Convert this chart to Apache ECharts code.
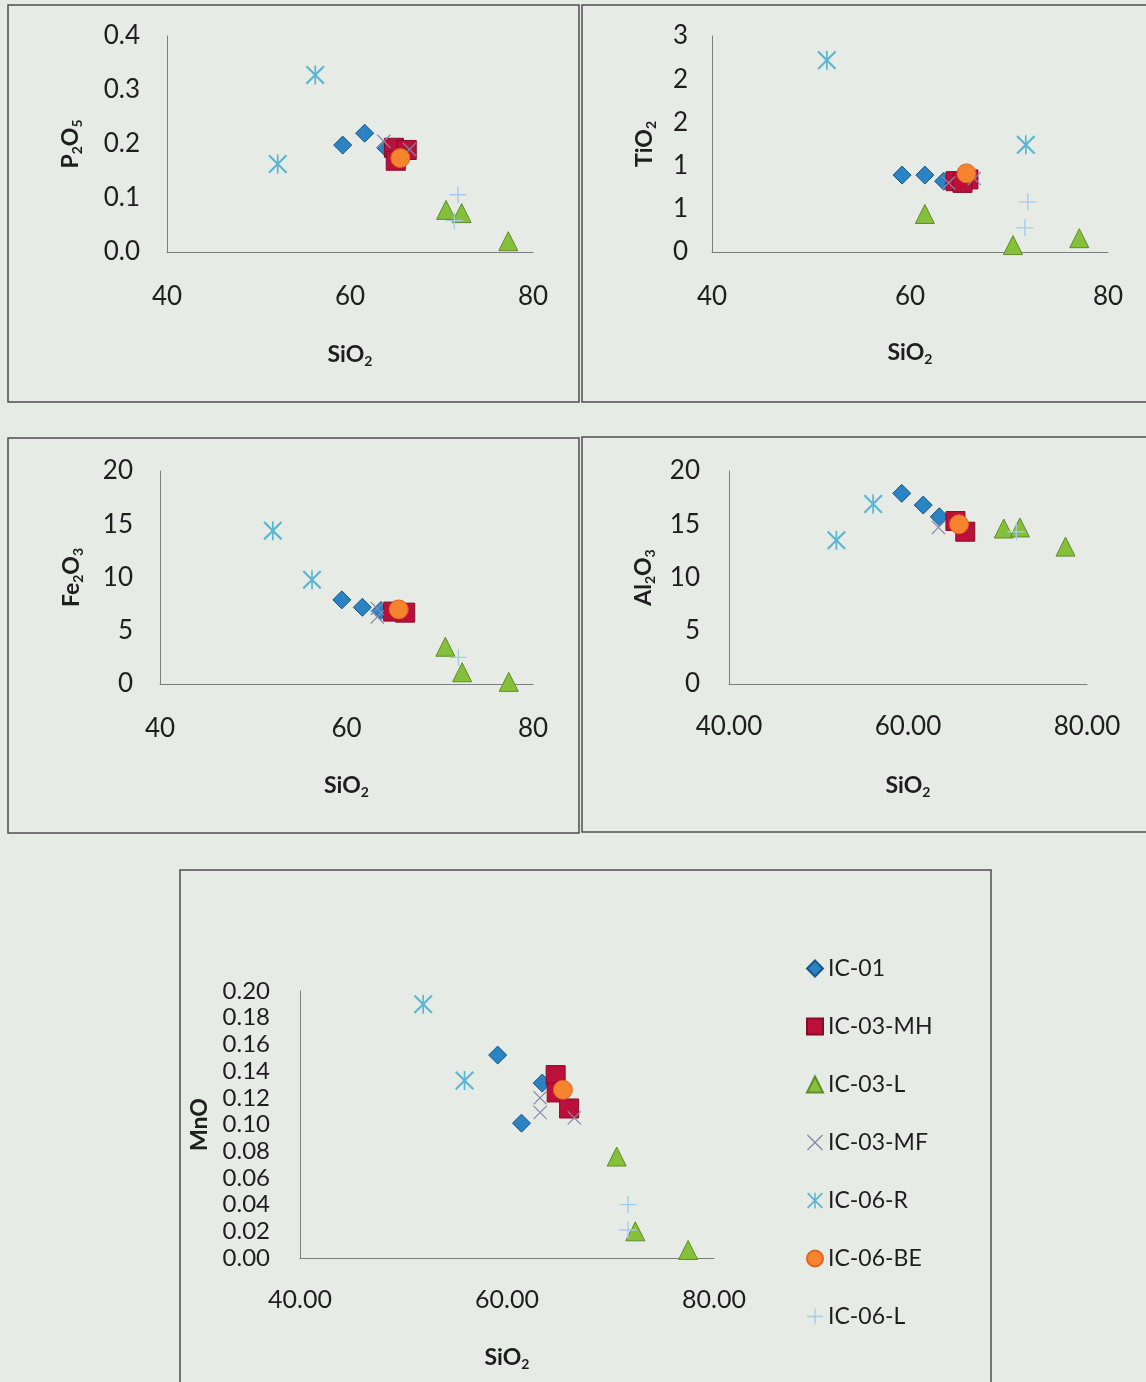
<!DOCTYPE html>
<html>
<head>
<meta charset="utf-8">
<title>SiO2 Harker diagrams</title>
<script src="https://cdn.jsdelivr.net/npm/echarts@6/dist/echarts.min.js"></script>
<style>
  html, body { margin: 0; padding: 0; background: #e6ebe5; }
  #chart { width: 1146px; height: 1382px; }
</style>
</head>
<body>
<div id="chart"></div>
<script>
// Sample groups, in drawing order
const samples = ['IC-01', 'IC-03-MH', 'IC-03-L', 'IC-03-MF', 'IC-06-R', 'IC-06-BE', 'IC-06-L'];

// Rows: [sample, SiO2, oxide]
const p2o5Rows = [
  ['IC-01', 59.2, 0.198], ['IC-01', 61.6, 0.220], ['IC-01', 63.9, 0.193],
  ['IC-03-MH', 64.8, 0.193], ['IC-03-MH', 66.2, 0.189], ['IC-03-MH', 65.0, 0.169],
  ['IC-03-L', 70.5, 0.078], ['IC-03-L', 72.2, 0.072], ['IC-03-L', 77.3, 0.020],
  ['IC-03-MF', 63.7, 0.205], ['IC-03-MF', 66.5, 0.190],
  ['IC-06-R', 56.2, 0.328], ['IC-06-R', 52.1, 0.163],
  ['IC-06-BE', 65.5, 0.174],
  ['IC-06-L', 71.8, 0.106], ['IC-06-L', 71.4, 0.058]
];

const tio2Rows = [
  ['IC-01', 59.2, 0.89], ['IC-01', 61.5, 0.89], ['IC-01', 63.4, 0.82],
  ['IC-03-MH', 64.6, 0.82], ['IC-03-MH', 65.9, 0.84], ['IC-03-MH', 65.3, 0.80],
  ['IC-03-L', 61.5, 0.44], ['IC-03-L', 70.4, 0.08], ['IC-03-L', 77.1, 0.16],
  ['IC-03-MF', 63.9, 0.80], ['IC-03-MF', 66.5, 0.85],
  ['IC-06-R', 51.6, 2.22], ['IC-06-R', 71.7, 1.24],
  ['IC-06-BE', 65.7, 0.91],
  ['IC-06-L', 71.9, 0.58], ['IC-06-L', 71.6, 0.28]
];

const fe2o3Rows = [
  ['IC-01', 59.5, 7.9], ['IC-01', 61.7, 7.2], ['IC-01', 63.7, 6.9],
  ['IC-03-MH', 65.0, 6.8], ['IC-03-MH', 66.3, 6.7],
  ['IC-03-L', 70.6, 3.5], ['IC-03-L', 72.4, 1.1], ['IC-03-L', 77.4, 0.2],
  ['IC-03-MF', 63.3, 7.1], ['IC-03-MF', 63.3, 6.3],
  ['IC-06-R', 52.1, 14.4], ['IC-06-R', 56.3, 9.8],
  ['IC-06-BE', 65.6, 7.0],
  ['IC-06-L', 72.0, 2.5]
];

const al2o3Rows = [
  ['IC-01', 59.3, 17.9], ['IC-01', 61.7, 16.8], ['IC-01', 63.5, 15.7],
  ['IC-03-MH', 65.3, 15.3], ['IC-03-MH', 66.4, 14.3],
  ['IC-03-L', 70.7, 14.6], ['IC-03-L', 72.5, 14.7], ['IC-03-L', 77.6, 12.9],
  ['IC-03-MF', 63.4, 14.7],
  ['IC-06-R', 56.1, 16.9], ['IC-06-R', 52.0, 13.5],
  ['IC-06-BE', 65.7, 15.0],
  ['IC-06-L', 72.1, 14.3]
];

const mnoRows = [
  ['IC-01', 59.1, 0.152], ['IC-01', 63.4, 0.131], ['IC-01', 61.4, 0.101],
  ['IC-03-MH', 64.7, 0.137], ['IC-03-MH', 64.8, 0.124], ['IC-03-MH', 66.0, 0.112],
  ['IC-03-L', 70.6, 0.076], ['IC-03-L', 72.4, 0.020], ['IC-03-L', 77.5, 0.006],
  ['IC-03-MF', 63.2, 0.120], ['IC-03-MF', 63.2, 0.109], ['IC-03-MF', 66.5, 0.105],
  ['IC-06-R', 51.9, 0.190], ['IC-06-R', 55.9, 0.133],
  ['IC-06-BE', 65.4, 0.126],
  ['IC-06-L', 71.7, 0.040], ['IC-06-L', 71.7, 0.021]
];

// Tick labels
const xTicksShort = ['40', '60', '80'];
const xTicksLong = ['40.00', '60.00', '80.00'];
const p2o5Ticks = ['0.0', '0.1', '0.2', '0.3', '0.4'];
const tio2Ticks = ['0', '1', '1', '2', '2', '3'];
const fe2o3Ticks = ['0', '5', '10', '15', '20'];
const al2o3Ticks = ['0', '5', '10', '15', '20'];
const mnoTicks = ['0.00', '0.02', '0.04', '0.06', '0.08', '0.10', '0.12', '0.14', '0.16', '0.18', '0.20'];

const FONT = 'Lato';
const TEXT = '#1e1e1e';
const AXIS = '#7d7d7d';

// Marker shapes (stroke-like glyphs as filled outlines)
const X_PATH = 'path://M0,1.2 L1.2,0 L10,8.8 L18.8,0 L20,1.2 L11.2,10 L20,18.8 L18.8,20 L10,11.2 L1.2,20 L0,18.8 L8.8,10 Z';
const STAR_PATH = 'path://M0,1.6 L1.6,0 L10,8.4 L18.4,0 L20,1.6 L11.6,10 L20,18.4 L18.4,20 L10,11.6 L1.6,20 L0,18.4 L8.4,10 Z M9.1,0 L10.9,0 L10.9,20 L9.1,20 Z';
const PLUS_PATH = 'path://M9.2,0 L10.8,0 L10.8,9.2 L20,9.2 L20,10.8 L10.8,10.8 L10.8,20 L9.2,20 L9.2,10.8 L0,10.8 L0,9.2 L9.2,9.2 Z';

const markerStyle = {
  'IC-01':    { symbol: 'diamond', size: 18, itemStyle: { color: '#2a84c4', borderColor: '#1a5588', borderWidth: 1, opacity: 1 } },
  'IC-03-MH': { symbol: 'rect', size: 19, itemStyle: { color: '#bb1039', borderColor: '#860c2a', borderWidth: 1, opacity: 1 } },
  'IC-03-L':  { symbol: 'triangle', size: 19, itemStyle: { color: '#86c03a', borderColor: '#5e8c28', borderWidth: 1, opacity: 1 } },
  'IC-03-MF': { symbol: X_PATH, size: 14, itemStyle: { color: '#8d86ab', opacity: 1 } },
  'IC-06-R':  { symbol: STAR_PATH, size: 19, itemStyle: { color: '#5cb6d2', opacity: 1 } },
  'IC-06-BE': { symbol: 'circle', size: 19, itemStyle: { color: '#f6842f', borderColor: '#e2621f', borderWidth: 1, opacity: 1 } },
  'IC-06-L':  { symbol: PLUS_PATH, size: 17, itemStyle: { color: '#a6cbe6', opacity: 1 } }
};

const richName = {
  b: { fontFamily: FONT, fontSize: 23, fontWeight: 'bold', color: TEXT, lineHeight: 26 },
  s: { fontFamily: FONT, fontSize: 14, fontWeight: 'bold', color: TEXT, lineHeight: 13, verticalAlign: 'bottom' }
};

// One panel per oxide: plot box, ticks, names and rows
const panels = [
  { rows: p2o5Rows, box: [167, 36, 366, 216], yMax: 0.4, yStep: 0.1, yTicks: p2o5Ticks, xTicks: xTicksShort,
    yName: '{b|P}{s|2}{b|O}{s|5}', yGap: 83, xGap: 90, xMargin: 32, yMargin: 27, tickSize: 26 },
  { rows: tio2Rows, box: [712, 36, 396, 216], yMax: 2.5, yStep: 0.5, yTicks: tio2Ticks, xTicks: xTicksShort,
    yName: '{b|TiO}{s|2}', yGap: 54, xGap: 88, xMargin: 32, yMargin: 24, tickSize: 26 },
  { rows: fe2o3Rows, box: [160, 471, 373, 213], yMax: 20, yStep: 5, yTicks: fe2o3Ticks, xTicks: xTicksShort,
    yName: '{b|Fe}{s|2}{b|O}{s|3}', yGap: 75, xGap: 89, xMargin: 32, yMargin: 27, tickSize: 26 },
  { rows: al2o3Rows, box: [729, 471, 358, 213], yMax: 20, yStep: 5, yTicks: al2o3Ticks, xTicks: xTicksLong,
    yName: '{b|Al}{s|2}{b|O}{s|3}', yGap: 72, xGap: 89, xMargin: 30, yMargin: 29, tickSize: 26 },
  { rows: mnoRows, box: [300, 991, 414, 267], yMax: 0.2, yStep: 0.02, yTicks: mnoTicks, xTicks: xTicksLong,
    yName: '{b|MnO}', yGap: 87, xGap: 87, xMargin: 29, yMargin: 30, tickSize: 24, xTickSize: 25 }
];

const grids = [], xAxes = [], yAxes = [], series = [];

panels.forEach((p, i) => {
  const [left, top, width, height] = p.box;
  grids.push({ left, top, width, height, containLabel: false });

  xAxes.push({
    type: 'value', gridIndex: i, min: 40, max: 80, interval: 20,
    name: '{b|SiO}{s|2}', nameLocation: 'middle', nameGap: p.xGap,
    nameTextStyle: { rich: richName },
    axisLine: { show: true, onZero: false, lineStyle: { color: AXIS, width: 1 } },
    axisTick: { show: false },
    splitLine: { show: false },
    axisLabel: {
      margin: p.xMargin, fontFamily: FONT, fontSize: p.xTickSize || p.tickSize, color: TEXT,
      formatter: (v, idx) => p.xTicks[idx]
    }
  });

  yAxes.push({
    type: 'value', gridIndex: i, min: 0, max: p.yMax, interval: p.yStep,
    name: p.yName, nameLocation: 'middle', nameGap: p.yGap, nameRotate: 90,
    nameTextStyle: { rich: richName },
    axisLine: { show: true, lineStyle: { color: AXIS, width: 1 } },
    axisTick: { show: false },
    splitLine: { show: false },
    axisLabel: {
      margin: p.yMargin, fontFamily: FONT, fontSize: p.tickSize, color: TEXT,
      formatter: (v, idx) => p.yTicks[idx]
    }
  });

  samples.forEach((s, k) => {
    const m = markerStyle[s];
    series.push({
      type: 'scatter', name: s, xAxisIndex: i, yAxisIndex: i,
      symbol: m.symbol, symbolSize: m.size, itemStyle: m.itemStyle,
      z: 2 + k,
      emphasis: { disabled: true },
      data: p.rows.filter(r => r[0] === s).map(r => [r[1], r[2]])
    });
  });
});

// Panel frames
const frameStyle = { fill: 'none', stroke: '#4e4e4e', lineWidth: 1.5 };
const frames = [
  [8, 5, 571, 397],
  [582, 5, 580, 397],
  [8, 438, 571, 395],
  [582, 437, 580, 395],
  [180, 870, 811, 530]
].map(([x, y, w, h]) => ({
  type: 'rect', shape: { x, y, width: w, height: h }, style: frameStyle, silent: true, z: -1
}));

const chart = echarts.init(document.getElementById('chart'), null, { renderer: 'canvas' });
chart.setOption({
  backgroundColor: '#e6ebe5',
  animation: false,
  grid: grids,
  xAxis: xAxes,
  yAxis: yAxes,
  series: series,
  graphic: frames,
  legend: {
    data: samples,
    orient: 'vertical',
    left: 801, top: 952,
    itemWidth: 16, itemHeight: 16, itemGap: 35,
    selectedMode: false,
    textStyle: { fontFamily: FONT, fontSize: 23, color: TEXT }
  }
});
</script>
</body>
</html>
